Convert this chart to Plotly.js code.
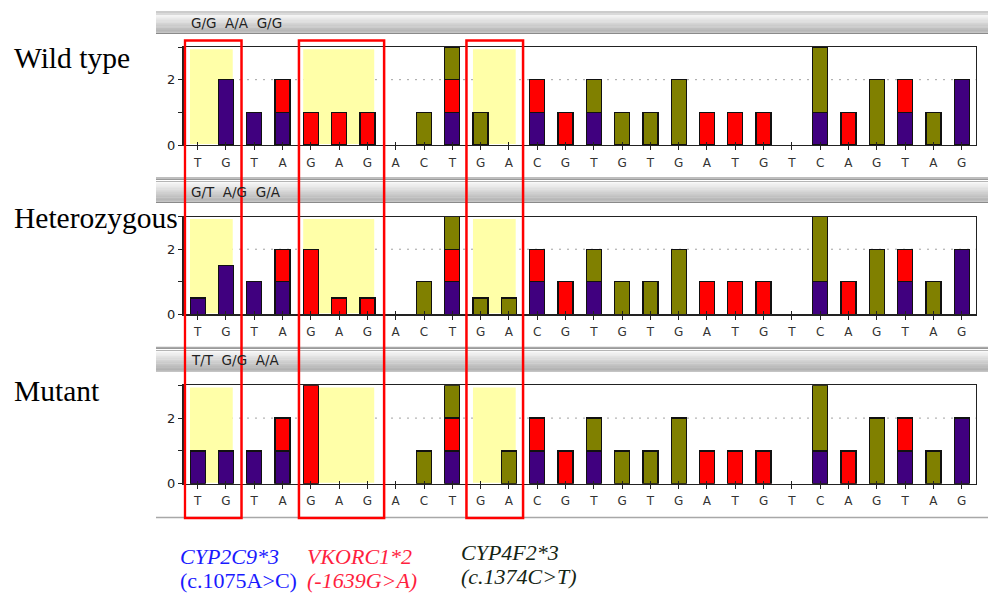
<!DOCTYPE html>
<html>
<head>
<meta charset="utf-8">
<script src="https://cdn.plot.ly/plotly-3.0.1.min.js"></script>
<style>html,body{margin:0;padding:0;background:#fff;}#chart{width:988px;height:594px;}</style>
</head>
<body>
<div id="chart"></div>
<script>
// Dispensation order (x tick labels)
const bases = ['T','G','T','A','G','A','G','A','C','T','G','A','C','G','T','G','T','G','A','T','G','T','C','A','G','T','A','G'];

// Wild type
const wtPurple = [0,2,1,1,0,0,0,0,0,1,0,0,1,0,1,0,0,0,0,0,0,0,1,0,0,1,0,2];
const wtRed    = [0,0,0,1,1,1,1,0,0,1,0,0,1,1,0,0,0,0,1,1,1,0,0,1,0,1,0,0];
const wtOlive  = [0,0,0,0,0,0,0,0,1,1,1,0,0,0,1,1,1,2,0,0,0,0,2,0,2,0,1,0];

// Heterozygous
const hetPurple = [0.5,1.5,1,1,0,0,0,0,0,1,0,0,1,0,1,0,0,0,0,0,0,0,1,0,0,1,0,2];
const hetRed    = [0,0,0,1,2,0.5,0.5,0,0,1,0,0,1,1,0,0,0,0,1,1,1,0,0,1,0,1,0,0];
const hetOlive  = [0,0,0,0,0,0,0,0,1,1,0.5,0.5,0,0,1,1,1,2,0,0,0,0,2,0,2,0,1,0];

// Mutant
const mutPurple = [1,1,1,1,0,0,0,0,0,1,0,0,1,0,1,0,0,0,0,0,0,0,1,0,0,1,0,2];
const mutRed    = [0,0,0,1,3,0,0,0,0,1,0,0,1,1,0,0,0,0,1,1,1,0,0,1,0,1,0,0];
const mutOlive  = [0,0,0,0,0,0,0,0,1,1,0,1,0,0,1,1,1,2,0,0,0,0,2,0,2,0,1,0];

// Panel labels
const panelNames = ['Wild type','Heterozygous','Mutant'];
const genotypes = ['G/G  A/A  G/G','G/T  A/G  G/A','T/T  G/G  A/A'];
// Variant regions (first, last dispensation index)
const regions = [[0,1],[4,6],[10,11]];

const W = 988, H = 594;
const px = v => v / W;
const py = v => 1 - v / H;

const colPurple = '#40007f', colRed = '#ff0000', colOlive = '#808000';
const xs = bases.map((b,i)=>i);
const nz = arr => arr.map(v => v === 0 ? null : v);

const panels = [
  {p:wtPurple, r:wtRed, o:wtOlive, top:47, zero:145, head:12, headEnd:33.5, bottom:178, labelY:58},
  {p:hetPurple, r:hetRed, o:hetOlive, top:216.7, zero:314.3, head:179.5, headEnd:202.5, bottom:347.5, labelY:218},
  {p:mutPurple, r:mutRed, o:mutOlive, top:385.3, zero:483.7, head:348.5, headEnd:371, bottom:517.5, labelY:391}
];

const traces = [];
const layout = {
  width: W, height: H,
  margin: {l:0, r:0, t:0, b:0},
  paper_bgcolor: '#ffffff', plot_bgcolor: 'rgba(0,0,0,0)',
  barmode: 'stack', showlegend: false, bargap: 0,
  shapes: [], annotations: []
};

panels.forEach((pn, k) => {
  const sfx = k === 0 ? '' : String(k+1);
  const xa = 'x' + sfx, ya = 'y' + sfx;
  [[pn.p, colPurple],[pn.r, colRed],[pn.o, colOlive]].forEach(([vals, c]) => {
    traces.push({
      type:'bar', x: xs, y: nz(vals), xaxis: xa, yaxis: ya, width: 0.53,
      marker: {color: c, line: {color: '#111', width: 1.3}},
      hoverinfo: 'skip'
    });
  });
  layout['xaxis' + sfx] = {
    domain: [px(183.5), px(975.8)], range: [-0.5, 27.5], anchor: ya,
    tickvals: xs, ticktext: bases, ticks: 'outside', ticklen: 4, tickcolor: '#222',
    ticklabelstandoff: 2,
    tickfont: {family: 'DejaVu Sans', size: 12, color: '#333'},
    showgrid: false, zeroline: false, showline: true, linecolor: '#222', linewidth: 1.2,
    mirror: true, fixedrange: true
  };
  // overlay axis for the upward part of the crossing tick marks
  const ox = 'xaxis' + (k + 4);
  layout[ox] = {
    domain: [px(183.5), px(975.8)], range: [-0.5, 27.5], anchor: ya, overlaying: xa,
    tickvals: xs, ticks: 'inside', ticklen: 3, tickcolor: '#222', showticklabels: false,
    showgrid: false, zeroline: false, showline: false, fixedrange: true
  };
  traces.push({type:'scatter', x: [], y: [], xaxis: 'x' + (k + 4), yaxis: ya, hoverinfo: 'skip'});
  layout['yaxis' + sfx] = {
    domain: [py(pn.zero), py(pn.top)], range: [0, 3], anchor: xa,
    tickvals: [0,1,2,3], ticktext: ['0','','2',''], ticks: 'outside', ticklen: 4, tickcolor: '#222',
    tickfont: {family: 'DejaVu Sans', size: 13, color: '#222'},
    showgrid: false, zeroline: false, showline: true, linecolor: '#222', linewidth: 1.5,
    mirror: true, fixedrange: true
  };
  // dotted level line at 2
  layout.shapes.push({type:'line', xref: xa, yref: ya, x0: -0.5, x1: 27.5, y0: 2, y1: 2,
    line: {color: '#444', width: 1, dash: '1px,7px'}, layer: 'below'});
  // yellow variant regions
  regions.forEach(([a,b]) => {
    layout.shapes.push({type:'rect', xref: xa, yref: ya, x0: a - 0.27, x1: b + 0.24, y0: 0.03, y1: 2.93,
      fillcolor: '#ffffa8', line: {width: 0}, layer: 'between'});
  });
  // header gradient bar
  const h0 = pn.head, h1 = pn.headEnd, n = 14;
  for (let i = 0; i < n; i++) {
    const t = i / (n - 1);
    const g = Math.round(244 - 66 * t);
    const yA = h0 + 3 + (h1 - h0 - 4) * i / n, yB = h0 + 3 + (h1 - h0 - 4) * (i + 1) / n;
    layout.shapes.push({type:'rect', xref:'paper', yref:'paper', x0: px(156), x1: 1, y0: py(yA), y1: py(yB + 0.3),
      fillcolor: `rgb(${g},${g},${g})`, line: {width: 0}, layer: 'below'});
  }
  [[h0, '#9a9a9a'], [h0 + 2, '#b5b5b5'], [h1, '#8a8a8a']].forEach(([yy, c]) => {
    layout.shapes.push({type:'line', xref:'paper', yref:'paper', x0: px(156), x1: 1, y0: py(yy), y1: py(yy),
      line: {color: c, width: 1.2}, layer: 'below'});
  });
  // panel bottom line
  layout.shapes.push({type:'line', xref:'paper', yref:'paper', x0: px(156), x1: 1, y0: py(pn.bottom), y1: py(pn.bottom),
    line: {color: '#a8a8a8', width: 1.5}, layer: 'below'});
  // genotype text
  layout.annotations.push({xref:'paper', yref:'paper', x: px(189), y: py((h0 + h1) / 2 + 0.5), xanchor: 'left', yanchor: 'middle',
    text: genotypes[k], showarrow: false, font: {family: 'DejaVu Sans', size: 13.5, color: '#222'}});
  // panel name
  layout.annotations.push({xref:'paper', yref:'paper', x: px(12), y: py(pn.labelY), xanchor: 'left', yanchor: 'middle',
    text: panelNames[k], showarrow: false, font: {family: 'Liberation Serif', size: 29.5, color: '#000'}});
});

// red boxes spanning all panels
const boxX = [[-0.45, 1.55], [3.58, 6.59], [9.5, 11.5]];
boxX.forEach(([a,b]) => {
  layout.shapes.push({type:'rect', xref:'x', yref:'paper', x0: a, x1: b, y0: py(518), y1: py(40.5),
    line: {color: '#ff0000', width: 2.5}, fillcolor: 'rgba(0,0,0,0)', layer: 'above'});
});

// gene labels
const geneLabels = [
  {t:'<i>CYP2C9*3</i>', x:178, y:556, c:'#1a1aff'},
  {t:'(c.1075A&gt;C)', x:178, y:580, c:'#1a1aff'},
  {t:'<i>VKORC1*2</i>', x:305, y:556, c:'#ff1f3f'},
  {t:'<i>(-1639G&gt;A)</i>', x:305, y:580, c:'#ff1f3f'},
  {t:'<i>CYP4F2*3</i>', x:459, y:552, c:'#152515'},
  {t:'<i>(c.1374C&gt;T)</i>', x:459, y:576, c:'#152515'}
];
geneLabels.forEach(g => {
  layout.annotations.push({xref:'paper', yref:'paper', x: px(g.x), y: py(g.y), xanchor:'left', yanchor:'middle',
    text: g.t, showarrow: false, font: {family: 'Liberation Serif, DejaVu Serif, serif', size: 22, color: g.c}});
});

Plotly.newPlot('chart', traces, layout, {displayModeBar: false, staticPlot: true});
</script>
</body>
</html>
